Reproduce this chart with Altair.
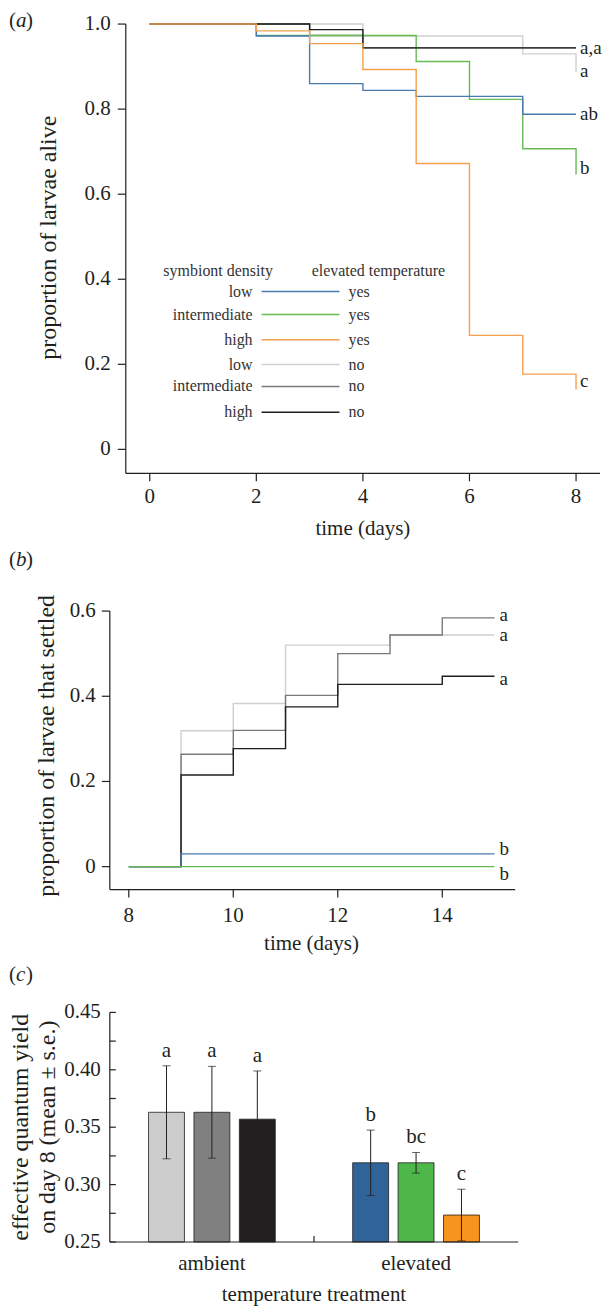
import altair as alt
import pandas as pd

FONT = "Liberation Serif"
TXT = "#231F20"

# ---------------- panel (a): proportion of larvae alive ----------------
A_LOW_YES_T = [0, 2, 3, 4, 5, 7, 8]
A_LOW_YES_V = [1.0, 0.972, 0.860, 0.844, 0.830, 0.788, 0.788]
A_INT_YES_T = [0, 2, 5, 6, 7, 8]
A_INT_YES_V = [1.0, 0.973, 0.912, 0.823, 0.707, 0.646]
A_HIGH_YES_T = [0, 2, 3, 4, 5, 6, 7, 8]
A_HIGH_YES_V = [1.0, 0.984, 0.954, 0.893, 0.672, 0.268, 0.177, 0.141]
A_LOW_NO_T = [0, 4, 7, 8]
A_LOW_NO_V = [1.0, 0.972, 0.930, 0.887]
A_INT_NO_T = [0, 3, 4, 8]
A_INT_NO_V = [1.0, 0.973, 0.944, 0.944]
A_HIGH_NO_T = [0, 3, 4, 8]
A_HIGH_NO_V = [1.0, 0.987, 0.944, 0.944]
A_LETTERS = ["a,a", "a", "ab", "b", "c"]
A_LETTER_Y = [0.943, 0.890, 0.789, 0.662, 0.160]
A_XTICKS = [0, 2, 4, 6, 8]
A_XLABELS = ["0", "2", "4", "6", "8"]
A_YTICKS = [0, 0.2, 0.4, 0.6, 0.8, 1.0]
A_YLABELS = ["0", "0.2", "0.4", "0.6", "0.8", "1.0"]

# ---------------- panel (b): proportion settled ----------------
B_LOW_NO_T = [8, 9, 10, 11, 13, 15]
B_LOW_NO_V = [0, 0.319, 0.383, 0.520, 0.544, 0.544]
B_INT_NO_T = [8, 9, 10, 11, 12, 13, 14, 15]
B_INT_NO_V = [0, 0.264, 0.320, 0.402, 0.500, 0.544, 0.584, 0.584]
B_HIGH_NO_T = [8, 9, 10, 11, 12, 14, 15]
B_HIGH_NO_V = [0, 0.215, 0.277, 0.375, 0.428, 0.447, 0.447]
B_LOW_YES_T = [8, 9, 15]
B_LOW_YES_V = [0, 0.030, 0.030]
B_INT_YES_T = [8, 15]
B_INT_YES_V = [0, 0]
B_LETTERS = ["a", "a", "a", "b", "b"]
B_LETTER_Y = [0.591, 0.543, 0.440, 0.042, -0.018]
B_XTICKS = [8, 10, 12, 14]
B_XLABELS = ["8", "10", "12", "14"]
B_YTICKS = [0, 0.2, 0.4, 0.6]
B_YLABELS = ["0", "0.2", "0.4", "0.6"]

# ---------------- panel (c): quantum yield ----------------
C_TREAT = ["ambient", "ambient", "ambient", "elevated", "elevated", "elevated"]
C_DENS = ["low", "intermediate", "high", "low", "intermediate", "high"]
C_MEAN = [0.363, 0.363, 0.357, 0.319, 0.319, 0.2735]
C_SE = [0.0405, 0.040, 0.042, 0.0285, 0.009, 0.0225]
C_LETTER = ["a", "a", "a", "b", "bc", "c"]
C_CATS = ["ambient", "elevated"]
C_TICKS = [0.25, 0.275, 0.30, 0.325, 0.35, 0.375, 0.40, 0.425, 0.45]
C_YTICKS = [0.25, 0.30, 0.35, 0.40, 0.45]
C_YLABELS = ["0.25", "0.30", "0.35", "0.40", "0.45"]

# legend
KEYS = ["low_yes", "int_yes", "high_yes", "low_no", "int_no", "high_no"]
LEG_DENS = ["low", "intermediate", "high", "low", "intermediate", "high"]
LEG_TEMP = ["yes", "yes", "yes", "no", "no", "no"]
LEG_Y = [0.371, 0.317, 0.258, 0.1995, 0.148, 0.087]

LINE_COLORS = ["#4A7BAF", "#66BB55", "#F5A04C", "#CFCFCF", "#7A7A7A", "#1E1E1E"]
BAR_COLORS = ["#CCCCCC", "#808080", "#231F20", "#2F6399", "#4DB74A", "#F7941D"]
BAR_KEYS = ["ambient-low", "ambient-intermediate", "ambient-high",
            "elevated-low", "elevated-intermediate", "elevated-high"]
COL = dict(zip(KEYS, LINE_COLORS))

one = pd.DataFrame({"d": [0]})


def steps(ts, vs):
    return pd.DataFrame({"t": ts, "v": vs})


def XD(v, sc=None):
    return alt.XDatum(v, scale=sc, axis=None) if sc is not None else alt.XDatum(v, axis=None)


def YD(v, sc=None):
    return alt.YDatum(v, scale=sc, axis=None) if sc is not None else alt.YDatum(v, axis=None)


def txt(text, xenc, yenc, size=21, **kw):
    return alt.Chart(one).mark_text(text=text, font=FONT, fontSize=size, color=TXT, **kw).encode(
        x=xenc, y=yenc)


def panel_label(letter, xenc, yenc):
    base = dict(align="left", baseline="middle")
    return [txt("(", xenc, yenc, **base),
            txt(letter, xenc, yenc, fontStyle="italic", dx=7, **base),
            txt(")", xenc, yenc, dx=17, **base)]


def frame(sx, sy, x0, x1, y0, y1, xt, xl, xt_len, xl_y, yt, yl, yt_x0, yl_pad):
    """Axis lines, ticks and tick labels drawn through the panel's scales."""
    out = []
    out.append(alt.Chart(one).mark_rule(color=TXT, strokeWidth=1.2).encode(
        x=XD(x0), y=YD(y0), y2=alt.datum(y1)))
    out.append(alt.Chart(one).mark_rule(color=TXT, strokeWidth=1.2).encode(
        x=XD(x0), x2=alt.datum(x1), y=YD(y0)))
    xdf = pd.DataFrame({"tv": xt, "lab": xl})
    out.append(alt.Chart(xdf).mark_rule(color=TXT, strokeWidth=1.2).encode(
        x=alt.X("tv:Q", scale=sx, axis=None), y=YD(y0), y2=alt.datum(y0 - xt_len)))
    out.append(alt.Chart(xdf).mark_text(font=FONT, fontSize=21, color=TXT, align="center",
                                        baseline="middle").encode(
        x=alt.X("tv:Q", scale=sx, axis=None), y=YD(xl_y), text="lab:N"))
    ydf = pd.DataFrame({"tv": yt, "lab": yl})
    out.append(alt.Chart(ydf).mark_rule(color=TXT, strokeWidth=1.2).encode(
        x=XD(yt_x0), x2=alt.datum(x0), y=alt.Y("tv:Q", scale=sy, axis=None)))
    out.append(alt.Chart(ydf).mark_text(font=FONT, fontSize=21, color=TXT, align="right",
                                        baseline="middle", dx=-yl_pad).encode(
        x=XD(yt_x0), y=alt.Y("tv:Q", scale=sy, axis=None), text="lab:N"))
    return out


# ======================= panel (a) =======================
SC_XA = alt.Scale(domain=[-0.7494, 8.4496], nice=False, zero=False)
SC_YA = alt.Scale(domain=[-0.0563, 1.0], nice=False, zero=False)

a_series = [
    ("low_no", A_LOW_NO_T, A_LOW_NO_V),
    ("int_no", A_INT_NO_T, A_INT_NO_V),
    ("int_yes", A_INT_YES_T, A_INT_YES_V),
    ("low_yes", A_LOW_YES_T, A_LOW_YES_V),
    ("high_no", A_HIGH_NO_T, A_HIGH_NO_V),
    ("high_yes", A_HIGH_YES_T, A_HIGH_YES_V),
]
a_layers = []
for key, ts, vs in a_series:
    a_layers.append(
        alt.Chart(steps(ts, vs)).mark_line(interpolate="step-after", strokeWidth=1.4, color=COL[key])
        .encode(x=alt.X("t:Q", scale=SC_XA, axis=None), y=alt.Y("v:Q", scale=SC_YA, axis=None))
    )

a_layers += frame(SC_XA, SC_YA, -0.45, 8.45, -0.0563, 1.0,
                  A_XTICKS, A_XLABELS, 0.0188, -0.1127,
                  A_YTICKS, A_YLABELS, -0.6, 7)

a_let = pd.DataFrame({"lab": A_LETTERS, "t": [8] * len(A_LETTERS), "ly": A_LETTER_Y})
a_layers.append(alt.Chart(a_let).mark_text(font=FONT, fontSize=19, color=TXT, align="left",
                                           baseline="middle", dx=4).encode(
    x=alt.X("t:Q", scale=SC_XA, axis=None), y=alt.Y("ly:Q", scale=SC_YA, axis=None), text="lab:N"))

# legend
leg = pd.DataFrame({"dens": LEG_DENS, "temp": LEG_TEMP, "key": KEYS, "ly": LEG_Y})
leg_base = dict(font=FONT, fontSize=16, color="#333333", baseline="middle")
a_layers.append(alt.Chart(leg).mark_text(align="right", **leg_base).encode(
    x=XD(1.93), y=alt.Y("ly:Q", scale=SC_YA, axis=None), text="dens:N"))
for key, ly in zip(KEYS, LEG_Y):
    a_layers.append(alt.Chart(one).mark_rule(strokeWidth=1.5, color=COL[key]).encode(
        x=XD(2.098), x2=alt.datum(3.56), y=YD(ly)))
a_layers.append(alt.Chart(leg).mark_text(align="left", **leg_base).encode(
    x=XD(3.728), y=alt.Y("ly:Q", scale=SC_YA, axis=None), text="temp:N"))
a_layers.append(alt.Chart(one).mark_text(text="symbiont density", align="center", **leg_base).encode(
    x=XD(1.283), y=YD(0.420)))
a_layers.append(alt.Chart(one).mark_text(text="elevated temperature", align="center", **leg_base).encode(
    x=XD(4.29), y=YD(0.420)))

a_layers.append(txt("proportion of larvae alive", XD(-1.892), YD(0.4977),
                    size=24, angle=270, align="center", baseline="middle"))
a_layers.append(txt("time (days)", XD(4.0), YD(-0.1878), size=21, align="center", baseline="middle"))
a_layers += panel_label("a", XD(-2.6417), YD(1.0082))

panel_a = alt.layer(*a_layers).properties(width=491, height=450)

# ======================= panel (b) =======================
SC_XB = alt.Scale(domain=[7.6369, 15.395], nice=False, zero=False)
SC_YB = alt.Scale(domain=[-0.0539, 0.6], nice=False, zero=False)

b_series = [
    ("low_no", B_LOW_NO_T, B_LOW_NO_V),
    ("int_no", B_INT_NO_T, B_INT_NO_V),
    ("high_no", B_HIGH_NO_T, B_HIGH_NO_V),
    ("low_yes", B_LOW_YES_T, B_LOW_YES_V),
    ("int_yes", B_INT_YES_T, B_INT_YES_V),
]
b_layers = []
for key, ts, vs in b_series:
    b_layers.append(
        alt.Chart(steps(ts, vs)).mark_line(interpolate="step-after", strokeWidth=1.4, color=COL[key])
        .encode(x=alt.X("t:Q", scale=SC_XB, axis=None), y=alt.Y("v:Q", scale=SC_YB, axis=None))
    )
b_layers += frame(SC_XB, SC_YB, 7.6369, 15.395, -0.0539, 0.6,
                  B_XTICKS, B_XLABELS, 0.0187, -0.1148,
                  B_YTICKS, B_YLABELS, 7.484, 6)
b_let = pd.DataFrame({"lab": B_LETTERS, "t": [15] * len(B_LETTERS), "ly": B_LETTER_Y})
b_layers.append(alt.Chart(b_let).mark_text(font=FONT, fontSize=19, color=TXT, align="left",
                                           baseline="middle", dx=5).encode(
    x=alt.X("t:Q", scale=SC_XB, axis=None), y=alt.Y("ly:Q", scale=SC_YB, axis=None), text="lab:N"))
b_layers.append(txt("proportion of larvae that settled", XD(6.433), YD(0.2836),
                    size=24, angle=270, align="center", baseline="middle"))
b_layers.append(txt("time (days)", XD(11.497), YD(-0.1805), size=21, align="center", baseline="middle"))
b_layers += panel_label("b", XD(5.7068), YD(0.7195))

panel_b = alt.layer(*b_layers).properties(width=406, height=279)

# ======================= panel (c) =======================
bars = pd.DataFrame({"treat": C_TREAT, "dens": C_DENS, "mean": C_MEAN, "se": C_SE,
                     "letter": C_LETTER})
bars["key"] = bars["treat"] + "-" + bars["dens"]
bars["lo"] = bars["mean"] - bars["se"]
bars["hi"] = bars["mean"] + bars["se"]

SC_YC = alt.Scale(domain=[0.25, 0.45], nice=False, zero=False)
SC_XC = alt.Scale(domain=C_CATS, paddingInner=0, paddingOuter=0)
SC_XO = alt.Scale(domain=["low", "intermediate", "high"], paddingInner=0.209, paddingOuter=0.852)

XC0 = alt.X("treat:N", scale=SC_XC, axis=None)
XO = alt.XOffset("dens:N", scale=SC_XO)

c_bars = alt.Chart(bars).mark_bar(stroke=TXT, strokeWidth=0.8).encode(
    x=XC0, xOffset=XO, y=alt.Y("mean:Q", scale=SC_YC, axis=None), y2=alt.datum(0.25),
    color=alt.Color("key:N", scale=alt.Scale(domain=BAR_KEYS, range=BAR_COLORS), legend=None))
c_err = alt.Chart(bars).mark_rule(color=TXT, strokeWidth=1).encode(
    x=XC0, xOffset=XO, y=alt.Y("lo:Q", scale=SC_YC, axis=None), y2="hi:Q")
c_cap_hi = alt.Chart(bars).mark_tick(color=TXT, size=8, thickness=1).encode(
    x=XC0, xOffset=XO, y=alt.Y("hi:Q", scale=SC_YC, axis=None))
c_cap_lo = alt.Chart(bars).mark_tick(color=TXT, size=8, thickness=1).encode(
    x=XC0, xOffset=XO, y=alt.Y("lo:Q", scale=SC_YC, axis=None))
c_let = alt.Chart(bars).mark_text(font=FONT, fontSize=21, color=TXT, baseline="middle", dy=-15).encode(
    x=XC0, xOffset=XO, y=alt.Y("hi:Q", scale=SC_YC, axis=None), text="letter:N")
c_cat = alt.Chart(pd.DataFrame({"treat": C_CATS})).mark_text(
    font=FONT, fontSize=21, color=TXT, baseline="middle").encode(
    x=XC0, y=YD(0.2309, SC_YC), text="treat:N")
c_main = alt.layer(c_bars, c_err, c_cap_hi, c_cap_lo, c_let, c_cat)

SC_HX = alt.Scale(domain=[0, 2], nice=False, zero=False)


def hx(v):
    return XD(v, SC_HX)


def hy(v):
    return YD(v, SC_YC)


ticks_df = pd.DataFrame({"tv": C_TICKS})
ylab_df = pd.DataFrame({"tv": C_YTICKS, "lab": C_YLABELS})
c_help = alt.layer(
    alt.Chart(one).mark_rule(color=TXT, strokeWidth=1.2).encode(x=hx(0), y=hy(0.25), y2=alt.datum(0.45)),
    alt.Chart(one).mark_rule(color=TXT, strokeWidth=1.2).encode(x=hx(0), x2=alt.datum(2), y=hy(0.25)),
    alt.Chart(ticks_df).mark_rule(color=TXT, strokeWidth=1.2).encode(
        x=hx(0), x2=alt.datum(0.0293), y=alt.Y("tv:Q", scale=SC_YC, axis=None)),
    alt.Chart(one).mark_rule(color=TXT, strokeWidth=1.2).encode(x=hx(1), y=hy(0.25), y2=alt.datum(0.2552)),
    alt.Chart(ylab_df).mark_text(font=FONT, fontSize=21, color=TXT, align="right",
                                 baseline="middle", dx=-9).encode(
        x=hx(0), y=alt.Y("tv:Q", scale=SC_YC, axis=None), text="lab:N"),
    txt("effective quantum yield", hx(-0.4352), hy(0.35), size=24, angle=270,
        align="center", baseline="middle"),
    txt("on day 8 (mean ± s.e.)", hx(-0.3032), hy(0.35), size=24, angle=270,
        align="center", baseline="middle"),
    txt("temperature treatment", hx(1.0), hy(0.2039), size=21, align="center", baseline="middle"),
    *panel_label("c", hx(-0.4939), hy(0.4822)))

panel_c = alt.layer(c_main, c_help).resolve_scale(x="independent").properties(width=409, height=230)

chart = alt.vconcat(panel_a, panel_b, panel_c, spacing=9).properties(
    padding=0
).configure_view(stroke=None)

chart.save("out.html", embed_options={"renderer": "svg", "actions": False})
